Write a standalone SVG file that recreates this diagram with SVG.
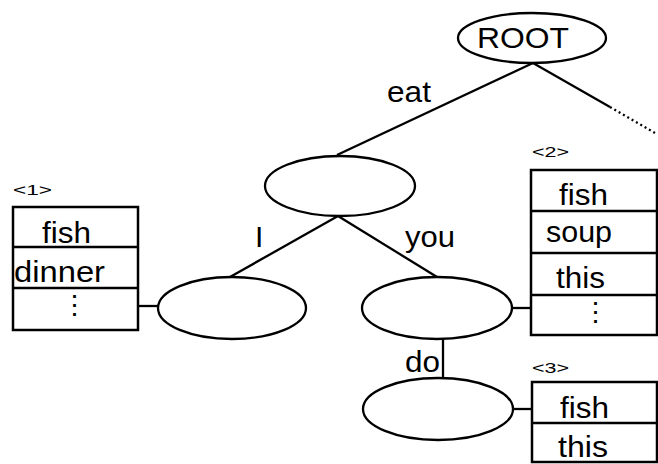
<svg xmlns="http://www.w3.org/2000/svg" width="658" height="464" viewBox="0 0 658 464">
  <style>
    .node { fill: #fff; stroke: #000; stroke-width: 2.3; }
    .edge { stroke: #000; stroke-width: 2.3; fill: none; }
    .dot { stroke: #000; stroke-width: 2.3; fill: none; stroke-dasharray: 2 3; }
    .box { fill: #fff; stroke: #000; stroke-width: 2.5; }
    .t { font-family: "Liberation Sans", Arial, sans-serif; font-size: 30px; fill: #000; }
    .s { font-family: "Liberation Sans", Arial, sans-serif; font-size: 14px; fill: #000; }
    .vd { font-family: "Liberation Sans", Arial, sans-serif; font-size: 27px; fill: #000; text-anchor: middle; }
  </style>
  <rect width="658" height="464" fill="#fff"/>

  <g id="connectors">
    <line class="edge" x1="533" y1="63" x2="337" y2="155"/>
    <line class="edge" x1="533" y1="63" x2="610" y2="107"/>
    <line class="dot" x1="610" y1="107" x2="655" y2="133"/>
    <line class="edge" x1="338" y1="216" x2="230" y2="277"/>
    <line class="edge" x1="338" y1="216" x2="437" y2="277"/>
    <line class="edge" x1="443" y1="339" x2="443" y2="378"/>
    <line class="edge" x1="138" y1="306" x2="158" y2="306"/>
    <line class="edge" x1="512" y1="308" x2="531" y2="308"/>
    <line class="edge" x1="513" y1="409" x2="532" y2="409"/>
    <text class="t" x="387" y="102" textLength="44" lengthAdjust="spacingAndGlyphs">eat</text>
    <text class="t" x="255" y="247">I</text>
    <text class="t" x="405" y="247" textLength="50" lengthAdjust="spacingAndGlyphs">you</text>
    <text class="t" x="405" y="372" textLength="35" lengthAdjust="spacingAndGlyphs">do</text>
  </g>

  <g id="root">
    <ellipse class="node" cx="532" cy="38" rx="74" ry="25"/>
    <text class="t" x="477" y="48" textLength="92" lengthAdjust="spacingAndGlyphs">ROOT</text>
  </g>
  <g id="n-eat">
    <ellipse class="node" cx="340" cy="186" rx="75" ry="30"/>
  </g>
  <g id="n-i">
    <ellipse class="node" cx="232" cy="308" rx="74" ry="31"/>
  </g>
  <g id="n-you">
    <ellipse class="node" cx="437" cy="308" rx="75" ry="31"/>
  </g>
  <g id="n-do">
    <ellipse class="node" cx="438" cy="409" rx="75" ry="31"/>
  </g>

  <g id="list1">
    <text class="s" x="13" y="195" textLength="39" lengthAdjust="spacingAndGlyphs">&lt;1&gt;</text>
    <rect class="box" x="13" y="207" width="125" height="123"/>
    <line class="edge" x1="13" y1="247" x2="138" y2="247"/>
    <line class="edge" x1="13" y1="288" x2="138" y2="288"/>
    <text class="t" x="42" y="243" textLength="49" lengthAdjust="spacingAndGlyphs">fish</text>
    <text class="t" x="14" y="282" textLength="91" lengthAdjust="spacingAndGlyphs">dinner</text>
    <text class="vd" x="74" y="314">⋮</text>
  </g>

  <g id="list2">
    <text class="s" x="532" y="157" textLength="37" lengthAdjust="spacingAndGlyphs">&lt;2&gt;</text>
    <rect class="box" x="531" y="170" width="126" height="165"/>
    <line class="edge" x1="531" y1="211" x2="657" y2="211"/>
    <line class="edge" x1="531" y1="253" x2="657" y2="253"/>
    <line class="edge" x1="531" y1="295" x2="657" y2="295"/>
    <text class="t" x="559" y="205" textLength="49" lengthAdjust="spacingAndGlyphs">fish</text>
    <text class="t" x="546" y="242" textLength="66" lengthAdjust="spacingAndGlyphs">soup</text>
    <text class="t" x="556" y="288" textLength="49" lengthAdjust="spacingAndGlyphs">this</text>
    <text class="vd" x="595" y="321">⋮</text>
  </g>

  <g id="list3">
    <text class="s" x="532" y="373" textLength="37" lengthAdjust="spacingAndGlyphs">&lt;3&gt;</text>
    <rect class="box" x="532" y="382" width="125" height="80"/>
    <line class="edge" x1="532" y1="423" x2="657" y2="423"/>
    <text class="t" x="560" y="418" textLength="49" lengthAdjust="spacingAndGlyphs">fish</text>
    <text class="t" x="558" y="457" textLength="50" lengthAdjust="spacingAndGlyphs">this</text>
  </g>
</svg>
